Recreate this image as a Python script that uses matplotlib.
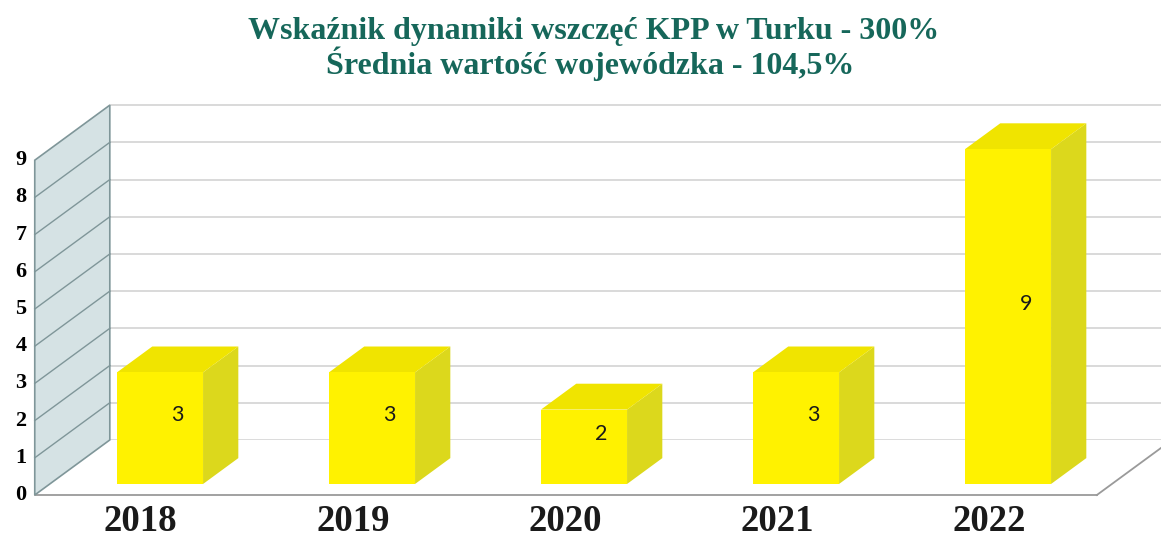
import numpy as np
import matplotlib.pyplot as plt
from matplotlib.patches import Polygon

# dane
years = ["2018", "2019", "2020", "2021", "2022"]
values = [3, 3, 2, 3, 9]
y_ticks = list(range(0, 10))
title_1 = "Wskaźnik dynamiki wszczęć KPP w Turku - 300%"
title_2 = "Średnia wartość wojewódzka - 104,5%"

# geometria pseudo-3D (jednostki danych)
DX, DY = 0.354, 1.48      # przesunięcie głębi
WALL_X = -0.52            # lewa ściana
FLOOR_END = 4.49          # prawy koniec podłogi
BAR_W = 0.406
D0, D1 = 0.2, 0.67        # głębokość słupka
VMAX = 9


def proj(x, v, d):
    return (x + d * DX, v + d * DY)


fig = plt.figure(figsize=(11.61, 5.38), dpi=100)
ax = fig.add_axes([0, 0, 1, 1])
ax.set_xlim(-145 / 212, (1161 - 145) / 212)
ax.set_ylim(-43 / 37.2, (538 - 43) / 37.2)
ax.axis("off")

grid_c = "#cfcfcf"
wall_edge = "#7f9699"

# siatka na tylnej ścianie
for v in y_ticks:
    p0 = proj(WALL_X, v, 1)
    p1 = proj(FLOOR_END + 1, v, 1)
    ax.plot([p0[0], p1[0]], [p0[1], p1[1]], color=grid_c, lw=1.1, zorder=1)

# podłoga
fl = [proj(WALL_X, 0, 0), proj(FLOOR_END, 0, 0), proj(FLOOR_END, 0, 1), proj(WALL_X, 0, 1)]
ax.add_patch(Polygon(fl, closed=True, facecolor="white", edgecolor="none", zorder=1.5))
for a, b in [((WALL_X, 0, 0), (FLOOR_END, 0, 0)), ((FLOOR_END, 0, 0), (FLOOR_END, 0, 1))]:
    pa, pb = proj(*a), proj(*b)
    ax.plot([pa[0], pb[0]], [pa[1], pb[1]], color="#9a9a9a", lw=1.3, zorder=2)

# lewa ściana
wall = [proj(WALL_X, 0, 0), proj(WALL_X, VMAX, 0), proj(WALL_X, VMAX, 1), proj(WALL_X, 0, 1)]
ax.add_patch(Polygon(wall, closed=True, facecolor="#d5e2e4", edgecolor=wall_edge, lw=1.2, zorder=2))
for v in y_ticks[1:-1]:
    pa, pb = proj(WALL_X, v, 0), proj(WALL_X, v, 1)
    ax.plot([pa[0], pb[0]], [pa[1], pb[1]], color=wall_edge, lw=1.0, zorder=2.5)

# opisy osi Y
for v in y_ticks:
    p = proj(WALL_X, v, 0)
    ax.text(p[0] - 0.04, p[1], str(v), ha="right", va="center",
            fontsize=16, fontweight="bold", family="Liberation Serif", zorder=3)

# słupki
front_c, top_c, side_c = "#fff200", "#f0e400", "#dcd81c"
for i, (yr, val) in enumerate(zip(years, values)):
    xl, xr = i - BAR_W / 2, i + BAR_W / 2
    front = [proj(xl, 0, D0), proj(xr, 0, D0), proj(xr, val, D0), proj(xl, val, D0)]
    top = [proj(xl, val, D0), proj(xr, val, D0), proj(xr, val, D1), proj(xl, val, D1)]
    side = [proj(xr, 0, D0), proj(xr, 0, D1), proj(xr, val, D1), proj(xr, val, D0)]
    ax.add_patch(Polygon(side, closed=True, facecolor=side_c, edgecolor="none", zorder=4))
    ax.add_patch(Polygon(top, closed=True, facecolor=top_c, edgecolor="none", zorder=4))
    ax.add_patch(Polygon(front, closed=True, facecolor=front_c, edgecolor="none", zorder=4))
    c = proj(i, val / 2, (D0 + D1) / 2)
    ax.text(c[0], c[1], str(val), ha="center", va="center", fontsize=15.5,
            family="Lato", color="#1a1a1a", zorder=5)
    ax.text(i - 0.02, -0.72, yr, ha="center", va="center", fontsize=26.5,
            fontweight="bold", family="Liberation Serif", color="#1a1a1a", zorder=5)

# tytuł
fig.text(594 / 1161, 1 - 32 / 538, title_1, ha="center", va="center", fontsize=23,
         fontweight="bold", family="Liberation Serif", color="#16675a")
fig.text(590 / 1161, 1 - 64 / 538, title_2, ha="center", va="center", fontsize=23,
         fontweight="bold", family="Liberation Serif", color="#16675a")

fig.savefig("out.png", dpi=100)
